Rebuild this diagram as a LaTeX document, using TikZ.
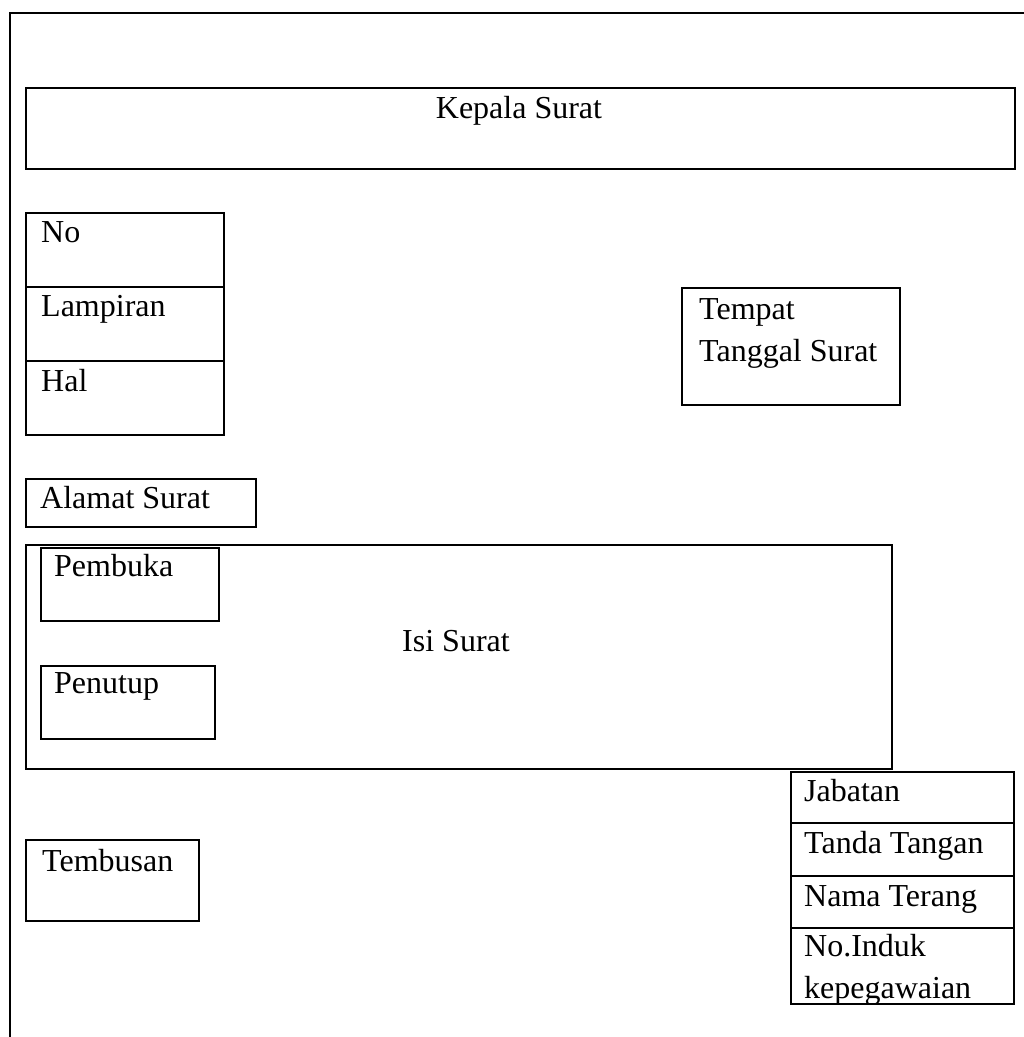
\documentclass[tikz,border=0pt]{standalone}
\usepackage{fontspec}
\setmainfont{Liberation Serif}
\begin{document}
\begin{tikzpicture}[x=1pt,y=-1pt,
  box/.style={draw=black, line width=1.8pt, inner sep=0pt, anchor=north west},
  lbl/.style={inner sep=0pt, anchor=base west, font=\fontsize{32}{42}\selectfont},
  clbl/.style={inner sep=0pt, anchor=base, font=\fontsize{32}{42}\selectfont}]
\useasboundingbox (0,0) rectangle (1024,1037);
% outer frame (left and top edges)
\coordinate (fbl) at (10,1037);
\coordinate (ftl) at (10,13);
\coordinate (ftr) at (1024,13);
\draw[line width=2pt] (fbl) -- (ftl) -- (ftr);
% Kepala Surat
\node[box, minimum width=989pt, minimum height=81pt] (kepala) at (25,87) {};
\node[clbl] (kepalat) at (519,118) {Kepala Surat};
% No / Lampiran / Hal
\node[box, minimum width=198pt, minimum height=74pt] (no) at (25,212) {};
\node[box, minimum width=198pt, minimum height=74pt] (lamp) at (25,286) {};
\node[box, minimum width=198pt, minimum height=74pt] (hal) at (25,360) {};
\node[lbl] (not) at (41,242) {No};
\node[lbl] (lampt) at (41,316) {Lampiran};
\node[lbl] (halt) at (41,391) {Hal};
% Tempat Tanggal Surat
\node[box, minimum width=218pt, minimum height=117pt] (tempat) at (681,287) {};
\node[lbl] (tempatt) at (699,319) {Tempat};
\node[lbl] (tanggalt) at (699,361) {Tanggal Surat};
% Alamat Surat
\node[box, minimum width=230pt, minimum height=48pt] (alamat) at (25,478) {};
\node[lbl] (alamatt) at (40,508) {Alamat Surat};
% Isi Surat
\node[box, minimum width=866pt, minimum height=224pt] (isi) at (25,544) {};
\node[clbl] (isit) at (456,651) {Isi Surat};
\node[box, minimum width=178pt, minimum height=73pt] (pembuka) at (40,547) {};
\node[lbl] (pembukat) at (54,576) {Pembuka};
\node[box, minimum width=174pt, minimum height=73pt] (penutup) at (40,665) {};
\node[lbl] (penutupt) at (54,693) {Penutup};
% Tembusan
\node[box, minimum width=173pt, minimum height=81pt] (tembusan) at (25,839) {};
\node[lbl] (tembusant) at (42,871) {Tembusan};
% Signature block
\node[box, minimum width=223pt, minimum height=51pt] (jabatan) at (790,771) {};
\node[box, minimum width=223pt, minimum height=53pt] (ttd) at (790,822) {};
\node[box, minimum width=223pt, minimum height=52pt] (nama) at (790,875) {};
\node[box, minimum width=223pt, minimum height=76pt] (nip) at (790,927) {};
\node[lbl] (jabatant) at (804,801) {Jabatan};
\node[lbl] (ttdt) at (804,853) {Tanda Tangan};
\node[lbl] (namat) at (804,906) {Nama Terang};
\node[lbl] (nipt) at (804,956) {No.Induk};
\node[lbl] (nipt2) at (804,998) {kepegawaian};
\end{tikzpicture}
\end{document}
